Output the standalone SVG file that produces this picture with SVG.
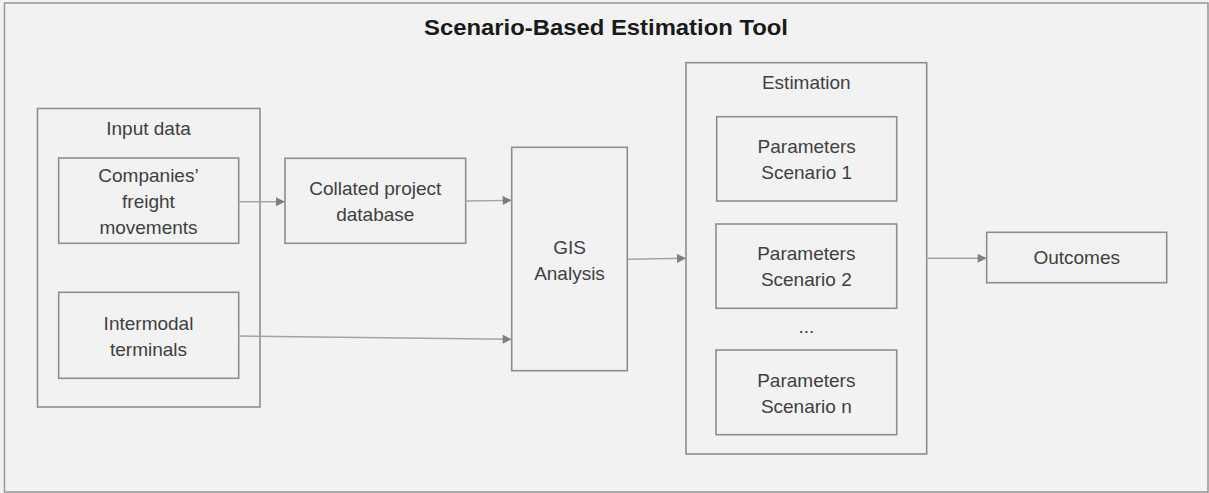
<svg xmlns="http://www.w3.org/2000/svg" width="1209" height="493" viewBox="0 0 1209 493">
<style>
.box{fill:none;stroke:#8e8e8e;stroke-width:1.6}
.t{font-family:"Liberation Sans",Arial,sans-serif;font-size:19px;fill:#404040;text-anchor:middle}
.title{font-family:"Liberation Sans",Arial,sans-serif;font-size:22px;font-weight:bold;fill:#1a1a1a;text-anchor:middle}
.c{fill:none;stroke:#a3a3a3;stroke-width:1.4}
</style>
<defs>
<marker id="ah" viewBox="0 0 10 10" refX="10" refY="5" markerWidth="10" markerHeight="9" markerUnits="userSpaceOnUse" orient="auto">
<path d="M0,0 L10,5 L0,10 Z" fill="#7f7f7f"/>
</marker>
</defs>
<rect x="0" y="0" width="1209" height="493" fill="#f2f2f2"/>
<g id="frame">
<rect x="4.5" y="3" width="1203.5" height="489" fill="none" stroke="#9a9a9a" stroke-width="1.6"/>
<text class="title" x="606" y="35" textLength="364" lengthAdjust="spacingAndGlyphs">Scenario-Based Estimation Tool</text>
</g>
<g id="input-data">
<rect class="box" x="37.5" y="108.5" width="222.5" height="298.5"/>
<text class="t" x="148.5" y="135">Input data</text>
</g>
<g id="companies">
<rect class="box" x="58.7" y="158" width="180" height="85.3"/>
<text class="t" x="148.5" y="182">Companies’</text>
<text class="t" x="148.5" y="208">freight</text>
<text class="t" x="148.5" y="234">movements</text>
</g>
<g id="intermodal">
<rect class="box" x="58.7" y="292.3" width="180" height="86"/>
<text class="t" x="148.5" y="330">Intermodal</text>
<text class="t" x="148.5" y="356">terminals</text>
</g>
<g id="collated">
<rect class="box" x="285" y="158.3" width="180.7" height="85"/>
<text class="t" x="375.3" y="195">Collated project</text>
<text class="t" x="375.3" y="221">database</text>
</g>
<g id="gis">
<rect class="box" x="511.7" y="147.3" width="115.6" height="223.4"/>
<text class="t" x="569.5" y="253.5">GIS</text>
<text class="t" x="569.5" y="280">Analysis</text>
</g>
<g id="estimation">
<rect class="box" x="686" y="62.7" width="240.7" height="391.3"/>
<text class="t" x="806.3" y="88.5">Estimation</text>
<text class="t" x="806.3" y="333">...</text>
</g>
<g id="scenario-1">
<rect class="box" x="716.7" y="116.7" width="180" height="84.3"/>
<text class="t" x="806.7" y="153">Parameters</text>
<text class="t" x="806.7" y="179">Scenario 1</text>
</g>
<g id="scenario-2">
<rect class="box" x="716" y="224" width="180.7" height="84.3"/>
<text class="t" x="806.3" y="260">Parameters</text>
<text class="t" x="806.3" y="286">Scenario 2</text>
</g>
<g id="scenario-n">
<rect class="box" x="716" y="350" width="180.7" height="84.7"/>
<text class="t" x="806.3" y="387">Parameters</text>
<text class="t" x="806.3" y="413">Scenario n</text>
</g>
<g id="outcomes">
<rect class="box" x="986.7" y="232.3" width="180" height="50.4"/>
<text class="t" x="1076.7" y="264.3">Outcomes</text>
</g>
<g id="connectors">
<line class="c" x1="238.7" y1="201.7" x2="285" y2="201.7" marker-end="url(#ah)"/>
<line class="c" x1="465.7" y1="201" x2="511.7" y2="200.3" marker-end="url(#ah)"/>
<line class="c" x1="238.7" y1="336" x2="511.7" y2="339.3" marker-end="url(#ah)"/>
<line class="c" x1="627.3" y1="259.3" x2="686" y2="258.3" marker-end="url(#ah)"/>
<line class="c" x1="926.7" y1="258.3" x2="986.7" y2="258.3" marker-end="url(#ah)"/>
</g>
</svg>
